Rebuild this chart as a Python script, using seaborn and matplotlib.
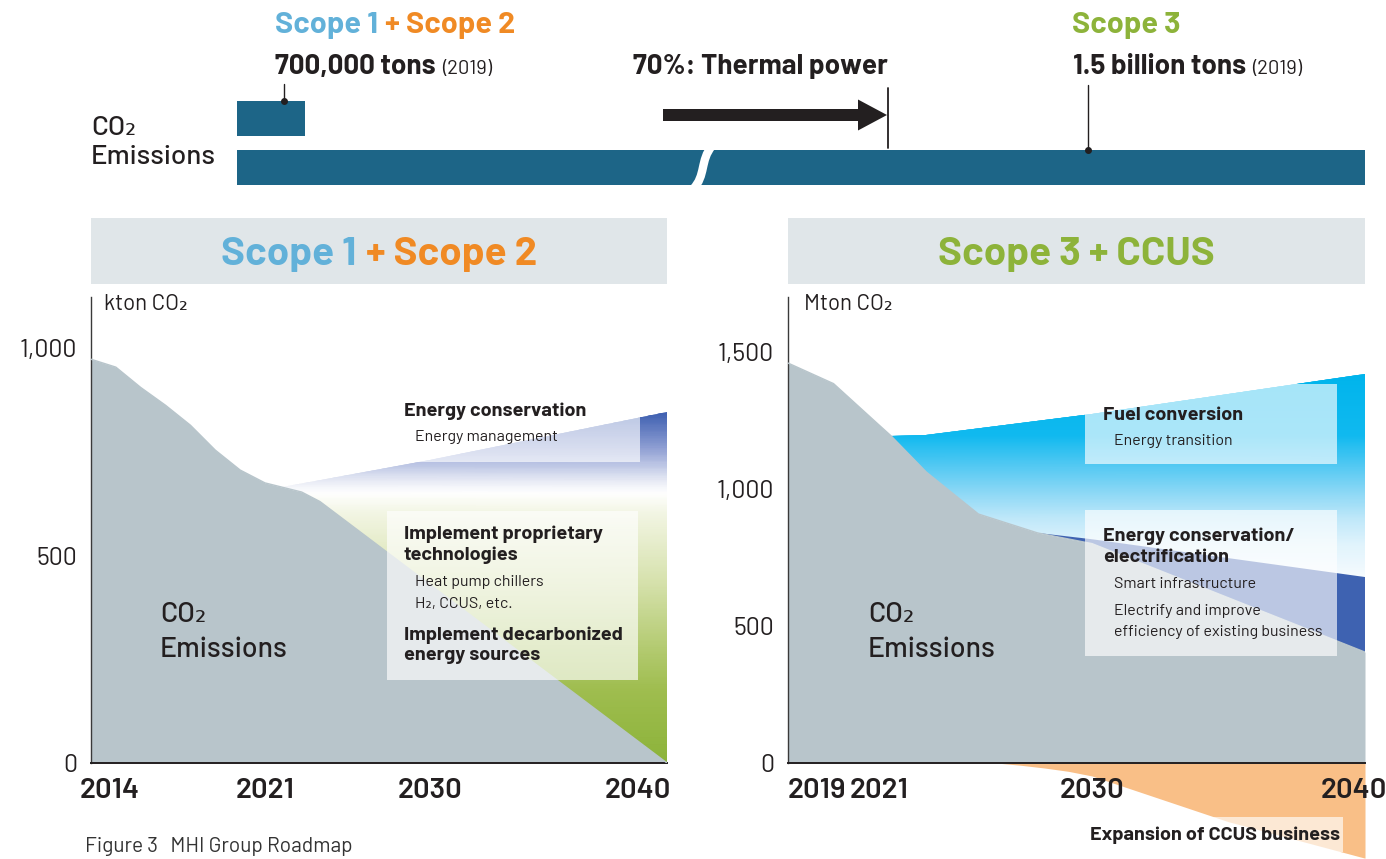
import numpy as np
import matplotlib
matplotlib.use('Agg')
import matplotlib.pyplot as plt
import seaborn as sns
from matplotlib.colors import LinearSegmentedColormap, Normalize
from matplotlib.patches import Rectangle, FancyArrow, PathPatch
from matplotlib.path import Path
from matplotlib.transforms import ScaledTranslation

# ---------------- data ----------------
# Scope 1 + Scope 2 (kton CO2)
s12_years = [2014, 2015, 2016, 2017, 2018, 2019, 2020, 2021, 2022, 2023, 2024, 2030, 2040]
s12_emissions = [973, 954, 905, 862, 814, 754, 706, 675, 664, 653, 630, 430, 0]
s12_cons_years = [2022, 2030, 2040]          # upper edge of "Energy conservation" wedge
s12_cons_top = [664, 729, 846]
s12_xticks = [2014, 2021, 2030, 2040]
s12_yticks = [0, 500, 1000]
s12_yticklabels = ["0", "500", "1,000"]

# Scope 3 + CCUS (Mton CO2)
s3_years = [2019, 2020, 2021, 2021.5, 2023, 2025.2, 2027.7, 2030, 2040]
s3_emissions = [1460, 1385, 1234, 1195, 1062, 909, 840, 801, 405]
s3_fuel_years = [2021.5, 2023, 2030, 2040]   # upper edge of "Fuel conversion"
s3_fuel_top = [1195, 1197, 1275, 1420]
s3_cons_years = [2027.7, 2030, 2040]         # upper edge of "Energy conservation/electrification"
s3_cons_top = [840, 817, 679]
ccus_years = [2026, 2027, 2028, 2029, 2030, 2035, 2040]
ccus_values = [0, -8, -18, -30, -47, -214, -347]
s3_xticks = [2019, 2021, 2030, 2040]
s3_yticks = [0, 500, 1000, 1500]
s3_yticklabels = ["0", "500", "1,000", "1,500"]

# ---------------- style ----------------
W, H = 1386, 859
DARK = '#231f20'
GRAY = '#b8c5cb'
BAR = '#1d6587'
HEAD_BG = '#e0e6e9'
BLUE_TXT = '#62b1d9'
ORANGE_TXT = '#f08a24'
GREEN_TXT = '#8db33a'
DKBLUE = '#3e62b1'
ORANGE_FILL = '#f9bf87'
FONT = ['Barlow', 'Barlow Semi Condensed', 'DejaVu Sans']

sns.set_theme(style='white')
plt.rcParams['font.family'] = FONT
plt.rcParams['axes.linewidth'] = 1.0

fig = plt.figure(figsize=(W / 100, H / 100), dpi=100)
fig.patch.set_facecolor('white')


def make_scale(years, pos):
    years = np.asarray(years, float)
    pos = np.asarray(pos, float)
    s0 = (pos[1] - pos[0]) / (years[1] - years[0])
    s1 = (pos[-1] - pos[-2]) / (years[-1] - years[-2])

    def fwd(x):
        x = np.asarray(x, float)
        y = np.interp(x, years, pos)
        y = np.where(x < years[0], pos[0] + (x - years[0]) * s0, y)
        y = np.where(x > years[-1], pos[-1] + (x - years[-1]) * s1, y)
        return y

    def inv(p):
        p = np.asarray(p, float)
        y = np.interp(p, pos, years)
        y = np.where(p < pos[0], years[0] + (p - pos[0]) / s0, y)
        y = np.where(p > pos[-1], years[-1] + (p - pos[-1]) / s1, y)
        return y
    return fwd, inv


def style_axes(ax, xticks, yticks, yticklabels, xoffsets):
    for s in ['top', 'right']:
        ax.spines[s].set_visible(False)
    ax.spines['left'].set_color('#3a3a3a')
    ax.spines['left'].set_linewidth(1.0)
    ax.spines['bottom'].set_color(DARK)
    ax.spines['bottom'].set_linewidth(1.4)
    ax.set_xticks(xticks)
    ax.set_xticklabels([str(v) for v in xticks], fontsize=21, fontweight='semibold', color=DARK)
    ax.set_yticks(yticks)
    ax.set_yticklabels(yticklabels, fontsize=18, color=DARK)
    ax.tick_params(axis='x', length=0, pad=11)
    ax.tick_params(axis='y', length=0, pad=10)
    ax.minorticks_off()
    for lab, dx in zip(ax.get_xticklabels(), xoffsets):
        lab.set_transform(lab.get_transform() + ScaledTranslation(dx / 100, 0, fig.dpi_scale_trans))
    ax.set_xlabel('')
    ax.set_ylabel('')
    ax.patch.set_visible(False)
    ax.grid(False)
    ax.xaxis.set_zorder(6)
    ax.yaxis.set_zorder(6)


# ---------------- left panel ----------------
axL = fig.add_axes([91 / W, 1 - 763 / H, 576 / W, (763 - 297) / H])
axL.set_xscale('function', functions=make_scale([2014, 2021, 2030, 2040], [0, 174, 339, 576]))
axL.set_xlim(2014, 2040)
axL.set_ylim(0, 1123)

cmapL = LinearSegmentedColormap.from_list('s12', [
    (0.0, '#8cb33a'), (176 / 846, '#9fbd4f'), (280 / 846, '#b4cb72'), (441 / 846, '#d7e2ae'),
    (602 / 846, '#f2f5e3'), (653 / 846, '#ffffff'), (682 / 846, '#e8ebf5'),
    (761 / 846, '#8f9fd3'), (1.0, '#3f60b1')])
i0 = s12_years.index(s12_cons_years[0])
polyx = s12_cons_years + s12_years[i0:][::-1]
polyy = s12_cons_top + s12_emissions[i0:][::-1]
clipL = axL.fill(polyx, polyy, facecolor='none', edgecolor='none', zorder=1)[0]
yy = np.linspace(0, max(s12_cons_top), 200)
X, Y = np.meshgrid([s12_cons_years[0], s12_cons_years[-1]], yy)
meshL = axL.pcolormesh(X, Y, Y, cmap=cmapL, norm=Normalize(0, max(s12_cons_top)),
                       shading='gouraud', zorder=1)
meshL.set_clip_path(clipL)

axL.fill_between(s12_years, s12_emissions, 0, color=GRAY, lw=0, zorder=2)
sns.lineplot(x=s12_years, y=s12_emissions, ax=axL, color=GRAY, lw=1, zorder=3)
style_axes(axL, s12_xticks, s12_yticks, s12_yticklabels, [19, 0, 0, -29])

# ---------------- right panel ----------------
axR = fig.add_axes([788 / W, 0, 577 / W, (859 - 297) / H])
axR.set_xscale('function', functions=make_scale([2019, 2021, 2030, 2040], [0, 91, 304, 577]))
axR.set_xlim(2019, 2040)
axR.set_ylim(-350, 1701)
axR.spines['bottom'].set_position(('data', 0))
axR.spines['left'].set_bounds(0, 1701)

cmapR = LinearSegmentedColormap.from_list('s3', [
    (0.0, '#f6fbfe'), (0.163, '#e0f3fc'), (0.298, '#bde7f9'), (0.433, '#86d6f5'),
    (0.568, '#4cc7f2'), (0.70, '#10b9ef'), (1.0, '#00b4ec')])
gray_mid = [(y, v) for y, v in zip(s3_years, s3_emissions) if s3_fuel_years[0] <= y < s3_cons_years[0]]
fx = s3_fuel_years + s3_cons_years[::-1] + [g[0] for g in gray_mid[::-1]]
fy = s3_fuel_top + s3_cons_top[::-1] + [g[1] for g in gray_mid[::-1]]
clipR = axR.fill(fx, fy, facecolor='none', edgecolor='none', zorder=1)[0]
lo, hi = min(s3_cons_top), max(s3_fuel_top)
yy = np.linspace(lo, hi, 200)
X, Y = np.meshgrid([s3_fuel_years[0], s3_fuel_years[-1]], yy)
meshR = axR.pcolormesh(X, Y, Y, cmap=cmapR, norm=Normalize(lo, hi), shading='gouraud', zorder=1)
meshR.set_clip_path(clipR)

gray_end = [(y, v) for y, v in zip(s3_years, s3_emissions) if y > s3_cons_years[0]]
cx = s3_cons_years + [g[0] for g in gray_end[::-1]]
cy = s3_cons_top + [g[1] for g in gray_end[::-1]]
axR.fill(cx, cy, facecolor=DKBLUE, edgecolor='none', zorder=1)

axR.fill_between(s3_years, s3_emissions, 0, color=GRAY, lw=0, zorder=2)
sns.lineplot(x=s3_years, y=s3_emissions, ax=axR, color=GRAY, lw=1, zorder=3)
axR.fill_between(ccus_years, ccus_values, 0, color=ORANGE_FILL, lw=0, zorder=1)
style_axes(axR, s3_xticks, s3_yticks, s3_yticklabels, [29, 0, 0, -11])

# ---------------- overlay (annotations, pixel coordinates) ----------------
deco = fig.add_axes([0, 0, 1, 1])
deco.set_xlim(0, W)
deco.set_ylim(H, 0)
deco.axis('off')
deco.patch.set_visible(False)
deco.set_zorder(10)
renderer = fig.canvas.get_renderer()


def T(x, y, s, size, weight='normal', color=DARK, ha='left', va='center', **kw):
    return deco.text(x, y, s, fontsize=size, fontweight=weight, color=color, ha=ha, va=va, **kw)


def seq(x, y, parts, center=False, gap=0):
    arts = [T(0, y, s, size, weight, color, va='baseline') for s, size, weight, color in parts]
    widths = [a.get_window_extent(renderer).width for a in arts]
    total = sum(widths) + gap * (len(arts) - 1)
    cur = x - total / 2 if center else x
    for a, w in zip(arts, widths):
        a.set_x(cur)
        cur += w + gap


# top strip
seq(275, 33, [("Scope 1", 22, 'bold', BLUE_TXT), ("+ Scope 2", 22, 'bold', ORANGE_TXT)], gap=7)
seq(275, 74, [("700,000 tons", 20, 'bold', DARK), ("(2019)", 14.5, 'normal', DARK)], gap=6)
T(633, 74, "70%: Thermal power", 20, 'bold', va='baseline')
T(1072, 33, "Scope 3", 22, 'bold', GREEN_TXT, va='baseline')
seq(1073, 74, [("1.5 billion tons", 20, 'bold', DARK), ("(2019)", 14.5, 'normal', DARK)], gap=6)
T(91, 128, "CO₂", 20, 'medium')
T(91, 157, "Emissions", 20, 'medium')

deco.add_patch(Rectangle((237, 101), 68, 35, facecolor=BAR, edgecolor='none'))
deco.add_patch(Rectangle((237, 150), 1128, 35, facecolor=BAR, edgecolor='none'))
brk = Path([(712, 146), (700, 160), (706, 176), (693, 189)],
           [Path.MOVETO, Path.CURVE4, Path.CURVE4, Path.CURVE4])
deco.add_patch(PathPatch(brk, facecolor='none', edgecolor='white', lw=6))
deco.plot([284, 284], [84, 101], color=DARK, lw=1)
deco.plot([284], [101], 'o', color=DARK, ms=4)
deco.plot([1088, 1088], [85, 150], color=DARK, lw=1)
deco.plot([1088], [150], 'o', color=DARK, ms=4)
deco.add_patch(FancyArrow(663, 115, 224, 0, width=12, head_width=31, head_length=29,
                          length_includes_head=True, color=DARK, lw=0))
deco.plot([888, 888], [88, 148], color=DARK, lw=1.3)

# section headers
deco.add_patch(Rectangle((91, 218), 576, 66, facecolor=HEAD_BG, edgecolor='none'))
deco.add_patch(Rectangle((788, 218), 577, 66, facecolor=HEAD_BG, edgecolor='none'))
seq(379, 265, [("Scope 1", 29, 'bold', BLUE_TXT), ("+ Scope 2", 29, 'bold', ORANGE_TXT)], center=True, gap=10)
seq(1076, 265, [("Scope 3 + CCUS", 29, 'bold', GREEN_TXT)], center=True)

# axis units
T(104, 305, "kton CO₂", 16)
T(804, 305, "Mton CO₂", 16)

# translucent label boxes
for (x0, y0, x1, y1) in [(387, 380, 640, 462), (387, 511, 638, 680),
                         (1085, 384, 1337, 464), (1085, 510, 1337, 656),
                         (1083, 817, 1343, 852)]:
    deco.add_patch(Rectangle((x0, y0), x1 - x0, y1 - y0, facecolor='white', alpha=0.65,
                             edgecolor='none', zorder=1))

# chart labels
for x in (160, 868):
    T(x, 615, "CO₂", 20.5, 'medium')
    T(x, 650, "Emissions", 20.5, 'medium')

T(404, 411, "Energy conservation", 14.3, 'bold')
T(415, 437, "Energy management", 11.5)
T(404, 534, "Implement proprietary", 14.3, 'bold')
T(404, 555, "technologies", 14.3, 'bold')
T(415, 582, "Heat pump chillers", 11.5)
T(415, 604, "H₂, CCUS, etc.", 11.5)
T(404, 635, "Implement decarbonized", 14.3, 'bold')
T(404, 656, "energy sources", 14.3, 'bold')

T(1103, 415, "Fuel conversion", 14.3, 'bold')
T(1114, 441, "Energy transition", 11.5)
T(1103, 536, "Energy conservation/", 14.3, 'bold')
T(1103, 557, "electrification", 14.3, 'bold')
T(1114, 584, "Smart infrastructure", 11.5)
T(1114, 611, "Electrify and improve", 11.5)
T(1114, 632, "efficiency of existing business", 11.5)
T(1090, 835, "Expansion of CCUS business", 14.3, 'bold')

T(85, 847, "Figure 3   MHI Group Roadmap", 15, color='#333333')

fig.savefig('out.png', dpi=100, facecolor='white')
